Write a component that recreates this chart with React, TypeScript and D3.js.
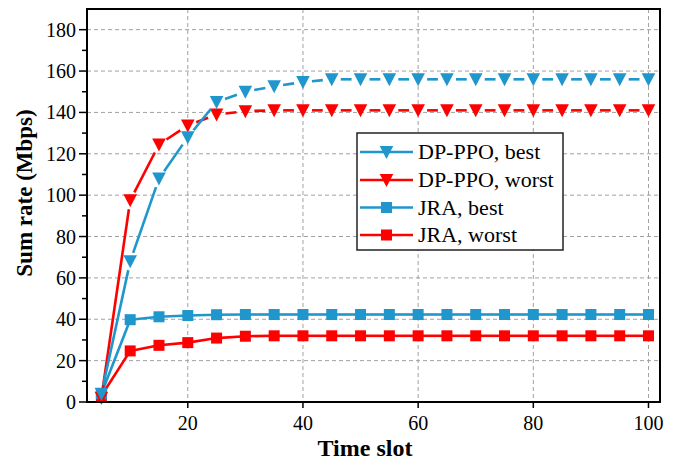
import React from "react";
import * as d3 from "d3";

const timeSlots = [5, 10, 15, 20, 25, 30, 35, 40, 45, 50, 55, 60, 65, 70, 75, 80, 85, 90, 95, 100];
const dpBest = [4, 68, 108, 128, 145, 150, 152.6, 154.7, 156, 156, 156, 156, 156, 156, 156, 156, 156, 156, 156, 156];
const dpWorst = [2, 97.5, 124.5, 133.7, 139, 140.6, 141, 141, 141, 141, 141, 141, 141, 141, 141, 141, 141, 141, 141, 141];
const jraBest = [4, 39.8, 41.2, 41.8, 42.2, 42.3, 42.3, 42.3, 42.3, 42.3, 42.3, 42.3, 42.3, 42.3, 42.3, 42.3, 42.3, 42.3, 42.3, 42.3];
const jraWorst = [3, 24.7, 27.4, 28.7, 30.9, 31.8, 32, 32, 32, 32, 32, 32, 32, 32, 32, 32, 32, 32, 32, 32];
const xTicks = [20, 40, 60, 80, 100];
const yTicks = [0, 20, 40, 60, 80, 100, 120, 140, 160, 180];
const yMinor = [10, 30, 50, 70, 90, 110, 130, 150, 170];
const seriesNames = ["DP-PPO, best", "DP-PPO, worst", "JRA, best", "JRA, worst"];

const BLUE = "#1f96cc";
const RED = "#ff0000";
const FONT = "Liberation Serif";

const W = 682, H = 462;
const L = 87, R = 660, T = 9, B = 402;

const x = d3.scaleLinear().domain([2.5, 102]).range([L, R]);
const y = d3.scaleLinear().domain([0, 190]).range([B, T]);

type S = { name: string; vals: number[]; color: string; marker: "tri" | "sq"; gap: number };
const series: S[] = [
  { name: seriesNames[0], vals: dpBest, color: BLUE, marker: "tri", gap: 9 },
  { name: seriesNames[1], vals: dpWorst, color: RED, marker: "tri", gap: 9 },
  { name: seriesNames[2], vals: jraBest, color: BLUE, marker: "sq", gap: 0 },
  { name: seriesNames[3], vals: jraWorst, color: RED, marker: "sq", gap: 0 },
];

const txt = { fontFamily: FONT, fill: "#000" } as React.CSSProperties;

function Marker({ cx, cy, kind, color }: { cx: number; cy: number; kind: string; color: string }) {
  if (kind === "tri") {
    const w = 6.8, h = 6;
    return <path d={`M${cx - w},${cy - h}L${cx + w},${cy - h}L${cx},${cy + h + 1}Z`} fill={color} />;
  }
  const s = 5.5;
  return <rect x={cx - s} y={cy - s} width={2 * s} height={2 * s} fill={color} />;
}

function Segments({ s }: { s: S }) {
  const pts = timeSlots.map((t, i) => [x(t), y(s.vals[i])] as [number, number]);
  const segs: React.ReactElement[] = [];
  for (let i = 0; i < pts.length - 1; i++) {
    const [x1, y1] = pts[i];
    const [x2, y2] = pts[i + 1];
    const dx = x2 - x1, dy = y2 - y1;
    const len = Math.hypot(dx, dy);
    if (len <= 2 * s.gap) continue;
    const ux = dx / len, uy = dy / len;
    segs.push(
      <line key={i} x1={x1 + ux * s.gap} y1={y1 + uy * s.gap} x2={x2 - ux * s.gap} y2={y2 - uy * s.gap}
        stroke={s.color} strokeWidth={2.6} />
    );
  }
  return <g>{segs}</g>;
}

export default function App() {
  const legX = 357, legY = 133, legW = 206, legH = 117;
  const rowY = [152, 180, 207.5, 235];
  return (
    <svg width={W} height={H} style={{ position: "absolute", left: 0, top: 0, background: "#fff" }}>
      <rect x={0} y={0} width={W} height={H} fill="#fff" />
      {xTicks.map((t) => (
        <line key={"gx" + t} x1={x(t)} x2={x(t)} y1={T} y2={B} stroke="#a0a0a0" strokeWidth={1} strokeDasharray="4,3" />
      ))}
      {yTicks.filter((t) => t > 0).map((t) => (
        <line key={"gy" + t} x1={L} x2={R} y1={y(t)} y2={y(t)} stroke="#a0a0a0" strokeWidth={1} strokeDasharray="4,3" />
      ))}
      {series.slice().reverse().map((s) => (
        <g key={s.name}>
          <Segments s={s} />
          {timeSlots.map((t, i) => (
            <Marker key={i} cx={x(t)} cy={y(s.vals[i])} kind={s.marker} color={s.color} />
          ))}
        </g>
      ))}
      <rect x={L} y={T} width={R - L} height={B - T} fill="none" stroke="#000" strokeWidth={2} />
      {xTicks.map((t) => (
        <g key={"xt" + t}>
          <line x1={x(t)} x2={x(t)} y1={B} y2={B + 6} stroke="#000" strokeWidth={1.5} />
          <text x={x(t)} y={430} style={{ ...txt, fontSize: 20 }} textAnchor="middle">{t}</text>
        </g>
      ))}
      {yTicks.map((t) => (
        <g key={"yt" + t}>
          <line x1={L - 8} x2={L} y1={y(t)} y2={y(t)} stroke="#000" strokeWidth={1.5} />
          <text x={L - 11} y={y(t) + 7} style={{ ...txt, fontSize: 20 }} textAnchor="end">{t}</text>
        </g>
      ))}
      {yMinor.map((t) => (
        <line key={"ym" + t} x1={L - 5} x2={L} y1={y(t)} y2={y(t)} stroke="#000" strokeWidth={1.5} />
      ))}
      <text x={365} y={456} style={{ ...txt, fontSize: 24, fontWeight: "bold" }} textAnchor="middle">Time slot</text>
      <text transform={`translate(32,193) rotate(-90)`} style={{ ...txt, fontSize: 23, fontWeight: "bold" }} textAnchor="middle">Sum rate (Mbps)</text>
      <rect x={legX} y={legY} width={legW} height={legH} fill="#fff" stroke="#222" strokeWidth={1.5} />
      {series.map((s, i) => (
        <g key={"lg" + i}>
          <line x1={360} x2={413} y1={rowY[i]} y2={rowY[i]} stroke={s.color} strokeWidth={2.6} />
          <Marker cx={386.5} cy={rowY[i]} kind={s.marker} color={s.color} />
          <text x={418} y={rowY[i] + 7} style={{ ...txt, fontSize: 22 }}>{s.name}</text>
        </g>
      ))}
    </svg>
  );
}
